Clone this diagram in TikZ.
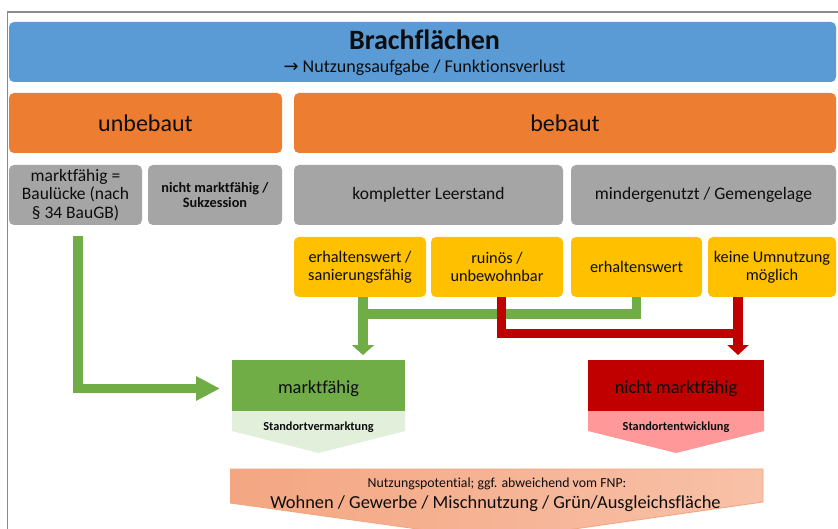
\documentclass[tikz,border=0pt]{standalone}
\usepackage{fontspec}
\setmainfont{Carlito}[Ligatures=NoCommon]
\newfontfamily\dejavu{DejaVu Sans}
\usetikzlibrary{arrows.meta,calc}
\definecolor{cblue}{HTML}{5B9BD5}
\definecolor{corange}{HTML}{ED7D31}
\definecolor{cgray}{HTML}{A5A5A5}
\definecolor{cyellow}{HTML}{FFC000}
\definecolor{cgreen}{HTML}{70AD47}
\definecolor{cred}{HTML}{C00000}
\definecolor{clgreen}{HTML}{E2EFDA}
\definecolor{cpink}{HTML}{FF9999}
\definecolor{cframe}{HTML}{8A8A8A}
\definecolor{csalmonL}{HTML}{F4A682}
\definecolor{csalmonR}{HTML}{F8C1A8}
\definecolor{csalmonE}{HTML}{F0A57C}
\definecolor{ctext}{HTML}{0D0D0D}
\begin{document}
\begin{tikzpicture}[x=1pt,y=-1pt,
  box/.style={rounded corners=5pt, inner sep=0pt, outer sep=0pt, align=center, text=ctext, minimum height=60},
  bluebox/.style={box, fill=cblue},
  orbox/.style={box, fill=corange, font=\fontsize{24}{26}\selectfont},
  grbox/.style={box, fill=cgray, font=\fontsize{17.5}{18.3}\selectfont},
  grboldbox/.style={box, fill=cgray, font=\fontsize{14.3}{15.7}\selectfont\bfseries},
  yebox/.style={box, fill=cyellow, font=\fontsize{16.3}{18}\selectfont},
  resbox/.style={inner sep=0pt, outer sep=0pt, minimum height=51},
  lbl/.style={anchor=base, text=ctext, inner sep=0pt},
  grline/.style={draw=cgreen, line width=9.5pt},
  rdline/.style={draw=cred, line width=9.5pt},
  grarrow/.style={grline, -{Triangle[width=22pt,length=10pt]}},
  rdarrow/.style={rdline, -{Triangle[width=21pt,length=10pt]}},
  bigarrow/.style={grline, -{Triangle[width=23pt,length=24pt]}}
]
\clip (0,0) rectangle (838,529);
\useasboundingbox (0,0) rectangle (838,529);
\fill[white] (0,0) rectangle (838,529);
% frame
\draw[cframe, line width=1.5pt] (7.3,529) -- (7.3,12) -- (838,12);

% top box
\node[bluebox, minimum width=827] (top) at (422.5,52) {};
\node[lbl, font=\fontsize{28}{30}\selectfont\bfseries] (ttl) at (424.5,50) {Brachflächen};
\node[lbl, font=\fontsize{18}{20}\selectfont] (sub) at (424.5,72.7) {{\dejavu\fontsize{18}{20}\selectfont →} Nutzungsaufgabe / Funktionsverlust};

% orange
\node[orbox, minimum width=273] (unb) at (145.5,123) {unbebaut};
\node[orbox, minimum width=542] (beb) at (565,123) {bebaut};

% gray
\node[grbox, minimum width=133] (g1) at (75.5,195) {marktfähig =\\Baulücke (nach\\§ 34 BauGB)};
\node[grboldbox, minimum width=134] (g2) at (215,195) {nicht marktfähig /\\Sukzession};
\node[grbox, minimum width=269] (g3) at (428.5,195) {kompletter Leerstand};
\node[grbox, minimum width=265] (g4) at (703.5,195) {mindergenutzt / Gemengelage};

% yellow
\node[yebox, minimum width=132] (y1) at (360,267) {erhaltenswert /\\sanierungsfähig};
\node[yebox, minimum width=132] (y2) at (497,267) {ruinös /\\unbewohnbar};
\node[yebox, minimum width=131] (y3) at (636.5,267) {erhaltenswert};
\node[yebox, minimum width=128] (y4) at (772,267) {keine Umnutzung\\möglich};

% result boxes
\node[resbox, fill=cgreen, minimum width=173] (mf) at (318.5,385.5) {};
\node[lbl, font=\fontsize{18.4}{20}\selectfont] (mft) at (318.5,393) {marktfähig};
\fill[clgreen] (mf.south west) -- (mf.south east) -- ++(0,20) -- ($(mf.south)+(0,42)$) -- ($(mf.south west)+(0,20)$) -- cycle;
\node[lbl, font=\fontsize{12.3}{14}\selectfont\bfseries] (mfs) at (318.5,430) {Standortvermarktung};

\node[resbox, fill=cred, minimum width=176] (nmf) at (676,385.5) {};
\node[lbl, font=\fontsize{18.4}{20}\selectfont] (nmft) at (676,393) {nicht marktfähig};
\fill[cpink] (nmf.south west) -- (nmf.south east) -- ++(0,20) -- ($(nmf.south)+(0,42)$) -- ($(nmf.south west)+(0,20)$) -- cycle;
\node[lbl, font=\fontsize{12.3}{14}\selectfont\bfseries] (nmfs) at (676,430) {Standortentwicklung};

% bottom chevron
\shade[left color=csalmonL, right color=csalmonR] (230,469) -- (763,469) -- (763,502) -- (497,540) -- (230,503) -- cycle;
\draw[csalmonE, line width=0.8pt] (230,469) -- (763,469) -- (763,502) -- (497,540) -- (230,503);
\node[lbl, font=\fontsize{13.8}{15}\selectfont] (pt1) at (497,487) {Nutzungspotential; ggf. abweichend vom FNP:};
\node[lbl, font=\fontsize{18.4}{20}\selectfont] (pt2) at (495.5,508) {Wohnen / Gewerbe / Mischnutzung / Grün/Ausgleichsfläche};

% connectors
\coordinate (a0) at ($(g1.south)+(2.5,11)$);
\coordinate (a1) at ($(mf.west)+(-12,3)$);
\draw[bigarrow] (a0) |- (a1);

\coordinate (g1s) at ($(y1.south)+(3,0)$);
\draw[grline] (y3.south) |- ($(g1s)+(0,17)$);
\draw[grarrow, shorten >=5pt] (g1s) -- (g1s |- mf.north);

\coordinate (r2s) at ($(y2.south)+(4.5,0)$);
\coordinate (r4s) at ($(y4.south)+(-34,0)$);
\draw[rdline] (r2s) |- ($(r4s)+(0,36.5)$);
\draw[rdarrow, shorten >=5pt] (r4s) -- (r4s |- nmf.north);
\end{tikzpicture}
\end{document}
